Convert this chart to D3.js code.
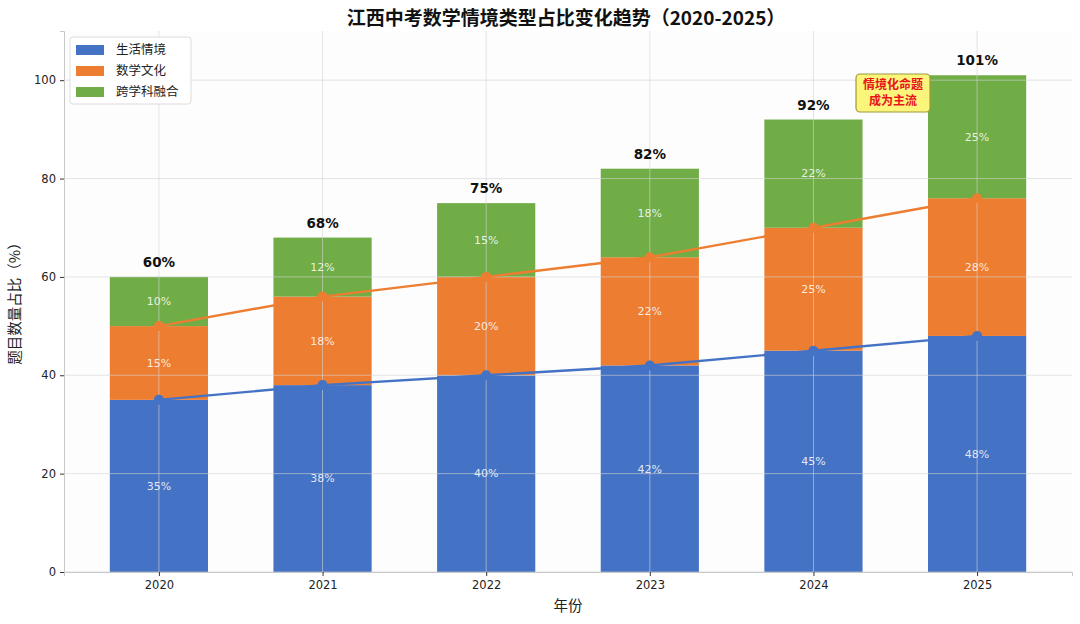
<!DOCTYPE html>
<html>
<head>
<meta charset="utf-8">
<script src="https://cdn.jsdelivr.net/npm/d3@7"></script>
<style>
  body { margin: 0; background: #fff; }
  svg { font-family: "DejaVu Sans", "Noto Sans CJK SC", sans-serif; }
  .cjk { font-family: "Noto Sans CJK SC", sans-serif; }
</style>
</head>
<body>
<script>
// data
var years = ["2020", "2021", "2022", "2023", "2024", "2025"];
var life = [35, 38, 40, 42, 45, 48];
var culture = [15, 18, 20, 22, 25, 28];
var cross = [10, 12, 15, 18, 22, 25];
var seriesNames = ["生活情境", "数学文化", "跨学科融合"];
var colors = ["#4472C4", "#ED7D31", "#70AD47"];
var yTicks = [0, 20, 40, 60, 80, 100];

var width = 1080, height = 624;
var margin = { left: 64, right: 8, top: 31, bottom: 52 };

var svg = d3.select("body").append("svg")
  .attr("width", width).attr("height", height);

var x = d3.scaleLinear()
  .domain([-0.58, 5.58])
  .range([margin.left, width - margin.right]);
var y = d3.scaleLinear()
  .domain([0, 110])
  .range([height - margin.bottom, margin.top]);

svg.append("rect")
  .attr("x", margin.left).attr("y", margin.top)
  .attr("width", width - margin.right - margin.left)
  .attr("height", height - margin.bottom - margin.top)
  .attr("fill", "#fdfdfd");

// stacked layout
var rows = years.map((yr, i) => ({ year: yr, i: i, a: life[i], b: culture[i], c: cross[i] }));
var stack = d3.stack().keys(["a", "b", "c"])(rows);
var barW = 0.6;

var layers = svg.append("g").selectAll("g")
  .data(stack)
  .join("g")
  .attr("fill", (d, k) => colors[k]);

layers.selectAll("rect")
  .data(d => d)
  .join("rect")
  .attr("x", d => x(d.data.i - barW / 2))
  .attr("width", d => x(barW) - x(0))
  .attr("y", d => y(d[1]))
  .attr("height", d => y(d[0]) - y(d[1]));

// grid over the bars
var grid = svg.append("g").attr("stroke", "#d4d4d4").attr("stroke-opacity", 0.6).attr("stroke-width", 1);
grid.selectAll("line.h")
  .data(yTicks)
  .join("line")
  .attr("class", "h")
  .attr("x1", margin.left).attr("x2", width - margin.right)
  .attr("y1", d => y(d)).attr("y2", d => y(d));
grid.selectAll("line.v")
  .data(years)
  .join("line")
  .attr("class", "v")
  .attr("x1", (d, i) => x(i)).attr("x2", (d, i) => x(i))
  .attr("y1", margin.top).attr("y2", height - margin.bottom);

// inside value labels
stack.forEach(function (layer) {
  svg.append("g").selectAll("text")
    .data(layer)
    .join("text")
    .attr("x", d => x(d.data.i))
    .attr("y", d => y((d[0] + d[1]) / 2))
    .attr("dy", "0.35em")
    .attr("text-anchor", "middle")
    .attr("fill", "#fff")
    .attr("fill-opacity", 0.85)
    .attr("font-size", 11)
    .text(d => (d[1] - d[0]) + "%");
});

// trend lines
var lifeTop = life;
var cultureTop = life.map((v, i) => v + culture[i]);
[[lifeTop, colors[0]], [cultureTop, colors[1]]].forEach(function (s) {
  var line = d3.line().x((d, i) => x(i)).y(d => y(d));
  svg.append("path")
    .attr("d", line(s[0]))
    .attr("fill", "none")
    .attr("stroke", s[1])
    .attr("stroke-width", 2.4);
  svg.append("g").selectAll("circle")
    .data(s[0])
    .join("circle")
    .attr("cx", (d, i) => x(i))
    .attr("cy", d => y(d))
    .attr("r", 5)
    .attr("fill", s[1]);
});

// totals
svg.append("g").selectAll("text")
  .data(rows)
  .join("text")
  .attr("x", d => x(d.i))
  .attr("y", d => y(d.a + d.b + d.c + 2))
  .attr("text-anchor", "middle")
  .attr("font-size", 13.5)
  .attr("font-weight", "bold")
  .attr("fill", "#111")
  .text(d => (d.a + d.b + d.c) + "%");

// axes
var xAxis = svg.append("g")
  .attr("transform", `translate(0,${height - margin.bottom})`)
  .call(d3.axisBottom(x).tickValues(d3.range(years.length)).tickFormat(i => years[i]).tickSize(4).tickPadding(5));
var yAxis = svg.append("g")
  .attr("transform", `translate(${margin.left},0)`)
  .call(d3.axisLeft(y).tickValues(yTicks).tickSize(4).tickPadding(4));
[xAxis, yAxis].forEach(function (ax) {
  ax.select(".domain").attr("stroke", "#c8c8c8");
  ax.selectAll(".tick line").attr("stroke", "#333");
  ax.selectAll(".tick text").attr("font-size", 11.5).attr("fill", "#222")
    .attr("font-family", "DejaVu Sans, sans-serif");
});

// title and axis labels
svg.append("text")
  .attr("class", "cjk")
  .attr("x", 566).attr("y", 25)
  .attr("text-anchor", "middle")
  .attr("font-size", 19)
  .attr("font-weight", "bold")
  .attr("fill", "#111")
  .text("江西中考数学情境类型占比变化趋势（2020-2025）");
svg.append("text")
  .attr("class", "cjk")
  .attr("x", 568).attr("y", 611)
  .attr("text-anchor", "middle")
  .attr("font-size", 14.5)
  .attr("fill", "#222")
  .text("年份");
svg.append("text")
  .attr("class", "cjk")
  .attr("transform", "translate(20,300) rotate(-90)")
  .attr("text-anchor", "middle")
  .attr("font-size", 14.5)
  .attr("fill", "#222")
  .text("题目数量占比（%）");

// legend
var lg = svg.append("g").attr("transform", "translate(70,37)");
lg.append("rect")
  .attr("width", 121).attr("height", 67).attr("rx", 3)
  .attr("fill", "#fff").attr("fill-opacity", 0.9)
  .attr("stroke", "#dcdcdc");
seriesNames.forEach(function (n, k) {
  lg.append("rect")
    .attr("x", 6).attr("y", 8 + k * 21)
    .attr("width", 28).attr("height", 10)
    .attr("fill", colors[k]);
  lg.append("text")
    .attr("class", "cjk")
    .attr("x", 46).attr("y", 13 + k * 21)
    .attr("dy", "0.35em")
    .attr("font-size", 12.5)
    .attr("fill", "#222")
    .text(n);
});

// annotation
var an = svg.append("g").attr("transform", "translate(893,93)");
an.append("rect")
  .attr("x", -37).attr("y", -19).attr("width", 74).attr("height", 38).attr("rx", 4)
  .attr("fill", "#fbf57c").attr("stroke", "#9c9a3c").attr("stroke-width", 1.2);
an.append("text")
  .attr("class", "cjk")
  .attr("text-anchor", "middle")
  .attr("font-size", 12)
  .attr("font-weight", "bold")
  .attr("fill", "#e8141a")
  .selectAll("tspan")
  .data(["情境化命题", "成为主流"])
  .join("tspan")
  .attr("x", 0)
  .attr("y", (d, k) => -4 + k * 16)
  .text(d => d);
</script>
</body>
</html>
